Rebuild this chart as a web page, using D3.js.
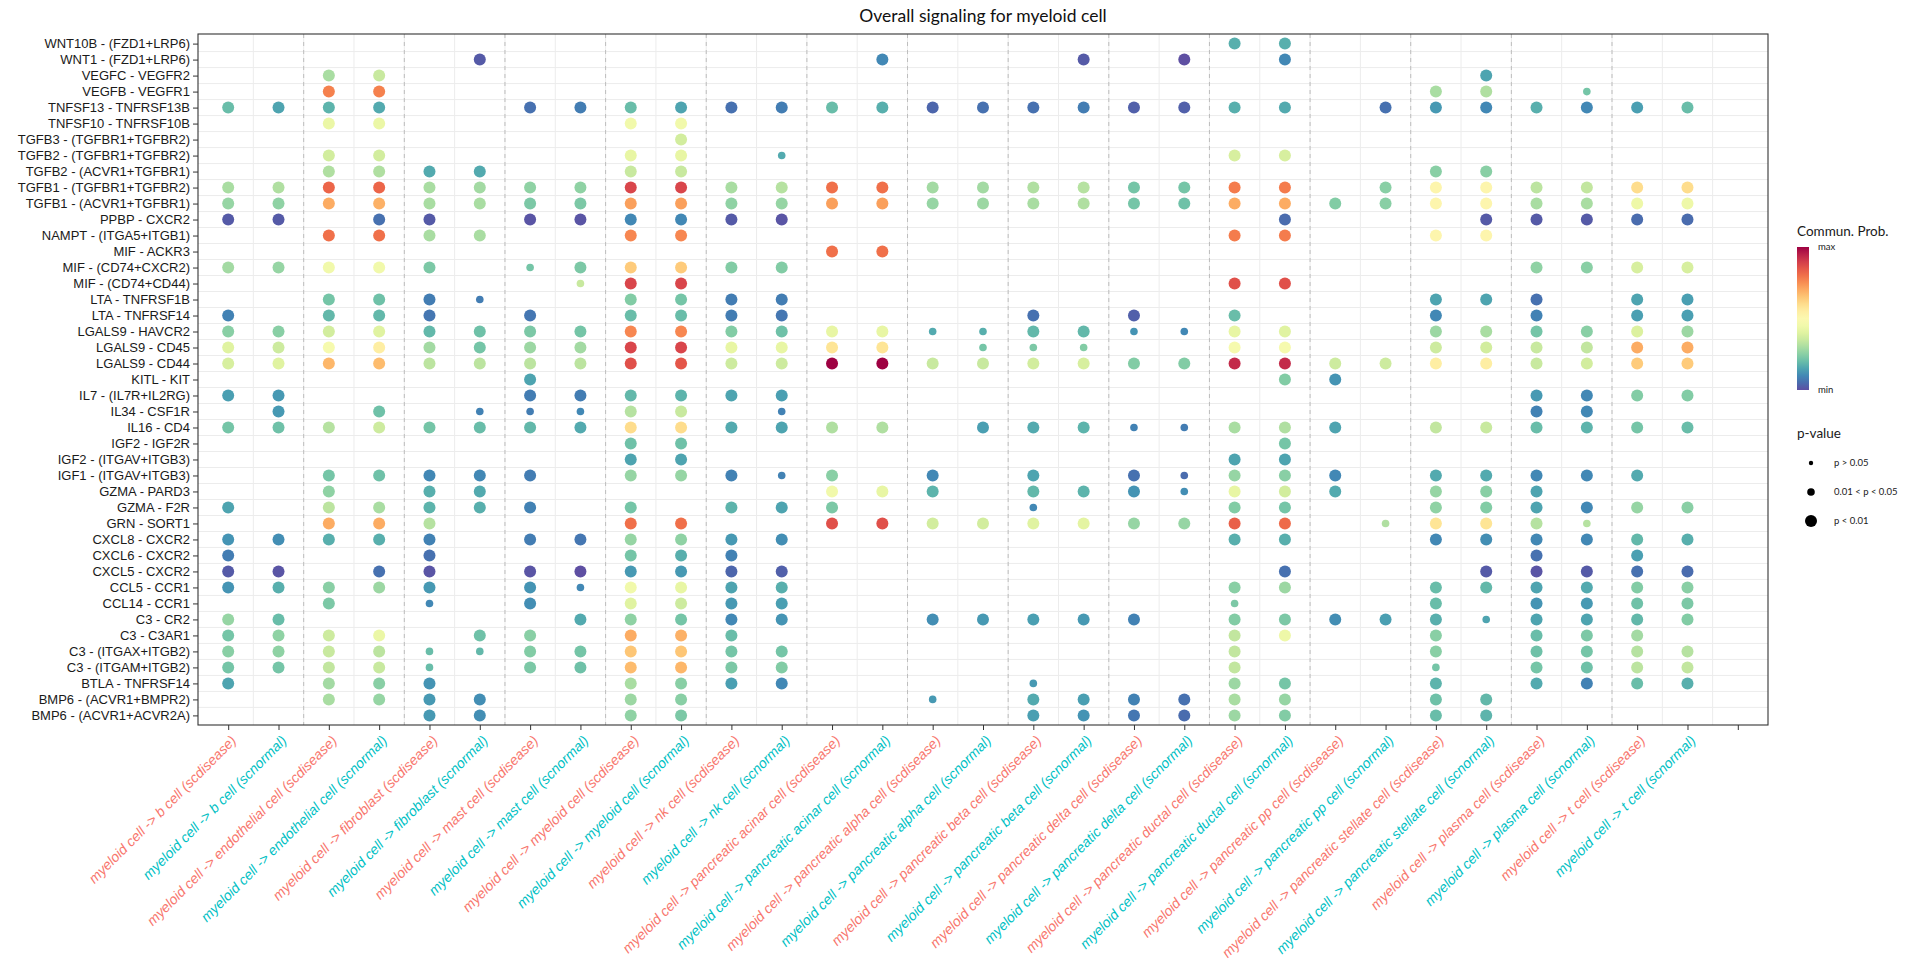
<!DOCTYPE html>
<html>
<head>
<meta charset="utf-8">
<script src="https://cdn.jsdelivr.net/npm/d3@7/dist/d3.min.js"></script>
<style>
  body { margin: 0; background: #fff; }
  svg { display: block; font-family: Lato, "Open Sans", sans-serif; }
</style>
</head>
<body>
<svg id="chart" width="1920" height="960"></svg>
<script>
'use strict';

// ligand - receptor pairs, top to bottom
const pairs = [
    'WNT10B - (FZD1+LRP6)', 'WNT1 - (FZD1+LRP6)', 'VEGFC - VEGFR2', 'VEGFB - VEGFR1',
    'TNFSF13 - TNFRSF13B', 'TNFSF10 - TNFRSF10B', 'TGFB3 - (TGFBR1+TGFBR2)', 'TGFB2 - (TGFBR1+TGFBR2)',
    'TGFB2 - (ACVR1+TGFBR1)', 'TGFB1 - (TGFBR1+TGFBR2)', 'TGFB1 - (ACVR1+TGFBR1)', 'PPBP - CXCR2',
    'NAMPT - (ITGA5+ITGB1)', 'MIF - ACKR3', 'MIF - (CD74+CXCR2)', 'MIF - (CD74+CD44)',
    'LTA - TNFRSF1B', 'LTA - TNFRSF14', 'LGALS9 - HAVCR2', 'LGALS9 - CD45', 'LGALS9 - CD44',
    'KITL - KIT', 'IL7 - (IL7R+IL2RG)', 'IL34 - CSF1R', 'IL16 - CD4', 'IGF2 - IGF2R',
    'IGF2 - (ITGAV+ITGB3)', 'IGF1 - (ITGAV+ITGB3)', 'GZMA - PARD3', 'GZMA - F2R', 'GRN - SORT1',
    'CXCL8 - CXCR2', 'CXCL6 - CXCR2', 'CXCL5 - CXCR2', 'CCL5 - CCR1', 'CCL14 - CCR1',
    'C3 - CR2', 'C3 - C3AR1', 'C3 - (ITGAX+ITGB2)', 'C3 - (ITGAM+ITGB2)', 'BTLA - TNFRSF14',
    'BMP6 - (ACVR1+BMPR2)', 'BMP6 - (ACVR1+ACVR2A)'
];

const source = 'myeloid cell';
const targets = [
    'b cell', 'endothelial cell', 'fibroblast', 'mast cell', 'myeloid cell', 'nk cell',
    'pancreatic acinar cell', 'pancreatic alpha cell', 'pancreatic beta cell', 'pancreatic delta cell',
    'pancreatic ductal cell', 'pancreatic pp cell', 'pancreatic stellate cell', 'plasma cell', 't cell'
];
const datasets = ['scdisease', 'scnormal'];
const datasetColors = ['#F8766D', '#00BFC4'];

// one row per pair: [column, commun. prob (scaled 0..1), p class]
// p class: 3 = p < 0.01 (default), 2 = 0.01 < p < 0.05, 1 = p > 0.05
const commProb = [
    [[20,.17],[21,.17]],
    [[5,.02],[13,.10],[17,.02],[19,.00],[21,.10]],
    [[2,.30],[3,.35],[25,.15]],
    [[2,.77],[3,.77],[24,.30],[25,.31],[27,.22,2]],
    [[0,.20],[1,.15],[2,.18],[3,.16],[6,.06],[7,.08],[8,.20],[9,.15],[10,.06],[11,.08],[12,.20],[13,.17],[14,.04],[15,.06],[16,.06],[17,.08],[18,.03],[19,.03],[20,.17],[21,.16],[23,.06],[24,.13],[25,.10],[26,.17],[27,.10],[28,.14],[29,.20]],
    [[2,.43],[3,.43],[8,.45],[9,.45]],
    [[9,.37]],
    [[2,.37],[3,.37],[8,.42],[9,.42],[11,.16,2],[20,.38],[21,.38]],
    [[2,.31],[3,.31],[4,.16],[5,.16],[8,.35],[9,.35],[24,.25],[25,.25]],
    [[0,.30],[1,.31],[2,.82],[3,.82],[4,.30],[5,.29],[6,.26],[7,.26],[8,.88],[9,.88],[10,.30],[11,.32],[12,.80],[13,.80],[14,.29],[15,.29],[16,.31],[17,.32],[18,.22],[19,.22],[20,.78],[21,.78],[23,.25],[24,.52],[25,.52],[26,.33],[27,.34],[28,.60],[29,.60]],
    [[0,.27],[1,.26],[2,.70],[3,.69],[4,.30],[5,.30],[6,.23],[7,.23],[8,.72],[9,.72],[10,.26],[11,.27],[12,.72],[13,.72],[14,.27],[15,.28],[16,.30],[17,.31],[18,.22],[19,.21],[20,.70],[21,.70],[22,.24],[23,.25],[24,.52],[25,.52],[26,.30],[27,.30],[28,.44],[29,.44]],
    [[0,.02],[1,.02],[3,.06],[4,.02],[6,.01],[7,.01],[8,.10],[9,.10],[10,.02],[11,.01],[21,.05],[25,.02],[26,.02],[27,.02],[28,.05],[29,.05]],
    [[2,.80],[3,.80],[4,.30],[5,.30],[8,.76],[9,.76],[20,.78],[21,.78],[24,.52],[25,.52]],
    [[12,.80],[13,.80]],
    [[0,.29],[1,.27],[2,.45],[3,.45],[4,.23],[6,.22,2],[7,.23],[8,.64],[9,.64],[10,.24],[11,.24],[26,.26],[27,.25],[28,.38],[29,.38]],
    [[7,.35,2],[8,.88],[9,.88],[20,.86],[21,.86]],
    [[2,.22],[3,.21],[4,.08],[5,.08,2],[8,.24],[9,.22],[10,.08],[11,.08],[24,.15],[25,.15],[26,.06],[28,.15],[29,.14]],
    [[0,.09],[2,.19],[3,.19],[4,.07],[6,.07],[8,.20],[9,.20],[10,.08],[11,.07],[16,.06],[18,.03],[20,.20],[24,.10],[26,.09],[28,.14],[29,.14]],
    [[0,.25],[1,.25],[2,.37],[3,.40],[4,.19],[5,.21],[6,.23],[7,.22],[8,.76],[9,.76],[10,.24],[11,.21],[12,.42],[13,.42],[14,.16,2],[15,.17,2],[16,.19],[17,.19],[18,.12,2],[19,.10,2],[20,.42],[21,.40],[24,.28],[25,.30],[26,.22],[27,.25],[28,.39],[29,.28]],
    [[0,.40],[1,.36],[2,.47],[3,.55],[4,.29],[5,.22],[6,.28],[7,.29],[8,.88],[9,.88],[10,.42],[11,.42],[12,.58],[13,.58],[15,.22,2],[16,.23,2],[17,.24,2],[20,.47],[21,.47],[24,.36],[25,.37],[26,.35],[27,.34],[28,.70],[29,.70]],
    [[0,.38],[1,.40],[2,.68],[3,.67],[4,.33],[5,.33],[6,.33],[7,.33],[8,.86],[9,.85],[10,.36],[11,.36],[12,1.0],[13,1.0],[14,.35],[15,.35],[16,.37],[17,.38],[18,.24],[19,.24],[20,.93],[21,.93],[22,.36],[23,.36],[24,.55],[25,.55],[26,.35],[27,.37],[28,.64],[29,.64]],
    [[6,.15],[21,.24],[22,.12]],
    [[0,.14],[1,.13],[6,.08],[7,.08],[8,.19],[9,.18],[10,.15],[11,.14],[26,.13],[27,.10],[28,.24],[29,.24]],
    [[1,.13],[3,.21],[5,.09,2],[6,.08,2],[7,.10,2],[8,.32],[9,.35],[11,.09,2],[26,.09],[27,.10]],
    [[0,.22],[1,.21],[2,.32],[3,.36],[4,.22],[5,.20],[6,.19],[7,.16],[8,.60],[9,.60],[10,.16],[11,.15],[12,.31],[13,.31],[15,.14],[16,.16],[17,.18],[18,.09,2],[19,.08,2],[20,.30],[21,.31],[22,.15],[24,.34],[25,.35],[26,.20],[27,.18],[28,.22],[29,.20]],
    [[8,.21],[9,.21],[21,.22]],
    [[8,.15],[9,.15],[20,.15],[21,.15]],
    [[2,.22],[3,.21],[4,.10],[5,.10],[6,.08],[8,.27],[9,.27],[10,.09],[11,.09,2],[12,.25],[14,.10],[16,.15],[18,.06],[19,.05,2],[20,.27],[21,.25],[22,.10],[24,.16],[25,.16],[26,.10],[27,.10],[28,.16]],
    [[2,.26],[4,.17],[5,.16],[12,.45],[13,.42],[14,.18],[16,.19],[17,.18],[18,.12],[19,.11,2],[20,.42],[21,.37],[22,.16],[24,.27],[25,.25],[26,.15]],
    [[0,.15],[2,.33],[3,.30],[4,.18],[5,.17],[6,.09],[8,.22],[10,.18],[11,.15],[12,.23],[16,.10,2],[20,.24],[21,.22],[24,.26],[25,.24],[26,.15],[27,.10],[28,.27],[29,.25]],
    [[2,.70],[3,.70],[4,.32],[8,.80],[9,.80],[12,.86],[13,.86],[14,.37],[15,.37],[16,.40],[17,.41],[18,.27],[19,.27],[20,.83],[21,.81],[23,.31,2],[24,.58],[25,.58],[26,.32],[27,.32,2]],
    [[0,.12],[1,.11],[2,.17],[3,.17],[4,.09],[6,.08],[7,.07],[8,.27],[9,.26],[10,.13],[11,.11],[20,.17],[21,.17],[24,.10],[25,.11],[26,.10],[27,.10],[28,.19],[29,.17]],
    [[0,.08],[4,.06],[8,.22],[9,.17],[10,.09],[26,.06],[28,.14]],
    [[0,.02],[1,.01],[3,.06],[4,.01],[6,.01],[7,.00],[8,.13],[9,.13],[10,.04],[11,.03],[21,.06],[25,.02],[26,.01],[27,.02],[28,.06],[29,.05]],
    [[0,.12],[1,.17],[2,.25],[3,.28],[4,.13],[6,.12],[7,.10,2],[8,.45],[9,.42],[10,.15],[11,.17],[20,.25],[21,.28],[24,.20],[25,.19],[26,.15],[27,.16],[28,.24],[29,.25]],
    [[2,.23],[4,.10,2],[6,.11],[8,.40],[9,.36],[10,.13],[11,.14],[20,.23,2],[24,.20],[26,.12],[27,.13],[28,.21],[29,.23]],
    [[0,.27],[1,.20],[7,.16],[8,.26],[9,.22],[10,.10],[11,.12],[14,.11],[15,.13],[16,.14],[17,.13],[18,.09],[20,.24],[21,.23],[22,.11],[23,.14],[24,.17],[25,.15,2],[26,.15],[27,.15],[28,.19],[29,.24]],
    [[0,.22],[1,.26],[2,.36],[3,.43],[5,.21],[6,.25],[8,.70],[9,.69],[10,.20],[20,.34],[21,.44],[24,.25],[26,.20],[27,.23],[28,.29]],
    [[0,.25],[1,.26],[2,.35],[3,.33],[4,.20,2],[5,.19,2],[6,.24],[7,.22],[8,.65],[9,.65],[10,.22],[11,.22],[20,.34],[24,.25],[26,.21],[27,.22],[28,.32],[29,.32]],
    [[0,.22],[1,.22],[2,.34],[3,.35],[4,.20,2],[6,.23],[7,.21],[8,.67],[9,.68],[10,.23],[11,.24],[20,.34],[24,.22,2],[26,.22],[27,.21],[28,.33],[29,.34]],
    [[0,.15],[2,.29],[3,.25],[4,.12],[8,.30],[9,.25],[10,.14],[11,.10],[16,.13,2],[20,.28],[21,.22],[24,.18],[26,.16],[27,.09],[28,.20],[29,.17]],
    [[2,.30],[3,.27],[4,.13],[5,.11],[8,.28],[9,.25],[14,.13,2],[16,.16],[17,.14],[18,.09],[19,.06],[20,.30],[21,.27],[24,.21],[25,.19]],
    [[4,.13],[5,.11],[8,.26],[9,.23],[16,.14],[17,.12],[18,.07],[19,.05],[20,.28],[21,.24],[24,.20],[25,.18]]
];

const pClasses = [1, 2, 3];
const pLabels = ['p > 0.05', '0.01 < p < 0.05', 'p < 0.01'];

// ---- build
const columns = [];
targets.forEach(function(t) {
    datasets.forEach(function(ds, k) {
        columns.push({label: source + ' -> ' + t + ' (' + ds + ')', color: datasetColors[k]});
    });
});
columns.push({label: '', color: '#000'}); // trailing empty level

const dots = [];
commProb.forEach(function(row, r) {
    row.forEach(function(d) {
        dots.push({pair: pairs[r], col: d[0], prob: d[1], pclass: d[2] || 3});
    });
});

const svg = d3.select('#chart');
svg.append('rect').attr('width', 1920).attr('height', 960).attr('fill', '#fff');

const margin = {top: 34, right: 152, bottom: 235, left: 198},
    width = 1920 - margin.left - margin.right,
    height = 960 - margin.top - margin.bottom;

const x = d3.scalePoint()
    .domain(d3.range(columns.length))
    .range([0, width])
    .padding(0.6);

const y = d3.scalePoint()
    .domain(pairs)
    .range([0, height])
    .padding(0.6);

const color = d3.scaleSequential(function(t) { return d3.interpolateSpectral(1 - t); })
    .domain(d3.extent(dots, function(d) { return d.prob; }));

const radius = d3.scaleOrdinal().domain(pClasses).range([2.2, 3.8, 6]);

const chart = svg.append('g')
    .attr('transform', 'translate(' + margin.left + ',' + margin.top + ')');

// grid between cells
const xs = x.step(), ys = y.step();
chart.append('g').selectAll('line')
    .data(d3.range(columns.length - 1))
    .enter().append('line')
    .attr('x1', function(i) { return x(i) + xs / 2; })
    .attr('x2', function(i) { return x(i) + xs / 2; })
    .attr('y1', 0).attr('y2', height)
    .attr('stroke', '#ececec').attr('stroke-width', 1);

chart.append('g').selectAll('line')
    .data(pairs.slice(0, -1))
    .enter().append('line')
    .attr('y1', function(p) { return y(p) + ys / 2; })
    .attr('y2', function(p) { return y(p) + ys / 2; })
    .attr('x1', 0).attr('x2', width)
    .attr('stroke', '#ececec').attr('stroke-width', 1);

// dashed separators between target groups
chart.append('g').selectAll('line')
    .data(d3.range(1, targets.length * 2 - 2, 2))
    .enter().append('line')
    .attr('x1', function(i) { return x(i) + xs / 2; })
    .attr('x2', function(i) { return x(i) + xs / 2; })
    .attr('y1', 0).attr('y2', height)
    .attr('stroke', '#bdbdbd').attr('stroke-width', 1)
    .attr('stroke-dasharray', '4,4');

// dots
chart.append('g').selectAll('circle')
    .data(dots)
    .enter().append('circle')
    .attr('cx', function(d) { return x(d.col); })
    .attr('cy', function(d) { return y(d.pair); })
    .attr('r', function(d) { return radius(d.pclass); })
    .attr('fill', function(d) { return color(d.prob); });

// panel border
chart.append('rect')
    .attr('width', width).attr('height', height)
    .attr('fill', 'none').attr('stroke', '#333').attr('stroke-width', 1.1);

// X axis
const xAxis = chart.append('g')
    .attr('class', 'x axis')
    .attr('transform', 'translate(0,' + height + ')')
    .call(d3.axisBottom(x).tickSize(5).tickFormat(function(i) { return columns[i].label; }));
xAxis.select('.domain').remove();
xAxis.selectAll('line').attr('stroke', '#333');
xAxis.selectAll('text')
    .style('text-anchor', 'end')
    .style('font-style', 'italic')
    .attr('font-size', 14)
    .attr('fill', function(i) { return columns[i].color; })
    .attr('x', 0).attr('y', 0).attr('dy', '0.35em')
    .attr('transform', 'translate(5,13) rotate(-45)');

// Y axis
const yAxis = chart.append('g')
    .attr('class', 'y axis')
    .call(d3.axisLeft(y).tickSize(5));
yAxis.select('.domain').remove();
yAxis.selectAll('line').attr('stroke', '#333');
yAxis.selectAll('text')
    .attr('font-size', 13)
    .attr('fill', '#1a1a1a')
    .attr('x', -8);

// title
svg.append('text')
    .attr('x', margin.left + width / 2)
    .attr('y', 22)
    .attr('text-anchor', 'middle')
    .attr('font-size', 17.5)
    .attr('fill', '#111')
    .text('Overall signaling for myeloid cell');

// legend: colour bar
const lg = svg.append('g').attr('transform', 'translate(1797,0)');
lg.append('text').attr('x', 0).attr('y', 236).attr('font-size', 13.5).attr('fill', '#1a1a1a').text('Commun. Prob.');

const defs = svg.append('defs');
const grad = defs.append('linearGradient').attr('id', 'probGrad')
    .attr('x1', 0).attr('y1', 1).attr('x2', 0).attr('y2', 0);
d3.range(0, 1.0001, 0.05).forEach(function(t) {
    grad.append('stop').attr('offset', t).attr('stop-color', color(color.domain()[0] + t * (color.domain()[1] - color.domain()[0])));
});
const barTop = 247, barH = 143;
lg.append('rect').attr('x', 0).attr('y', barTop).attr('width', 12).attr('height', barH)
    .attr('fill', 'url(#probGrad)');
lg.append('text').attr('x', 21).attr('y', barTop).attr('dy', '0.35em').attr('font-size', 9.5).attr('fill', '#1a1a1a').text('max');
lg.append('text').attr('x', 21).attr('y', barTop + barH).attr('dy', '0.35em').attr('font-size', 9.5).attr('fill', '#1a1a1a').text('min');

// legend: p-value sizes
lg.append('text').attr('x', 0).attr('y', 438).attr('font-size', 13.5).attr('fill', '#1a1a1a').text('p-value');
const items = lg.selectAll('.pitem')
    .data(pClasses)
    .enter().append('g')
    .attr('class', 'pitem')
    .attr('transform', function(d, i) { return 'translate(0,' + (463 + i * 29) + ')'; });
items.append('circle').attr('cx', 14).attr('cy', 0)
    .attr('r', function(d) { return radius(d); }).attr('fill', '#000');
items.append('text').attr('x', 37).attr('y', 0).attr('dy', '0.35em')
    .attr('font-size', 9.5).attr('fill', '#1a1a1a')
    .text(function(d, i) { return pLabels[i]; });
</script>
</body>
</html>
